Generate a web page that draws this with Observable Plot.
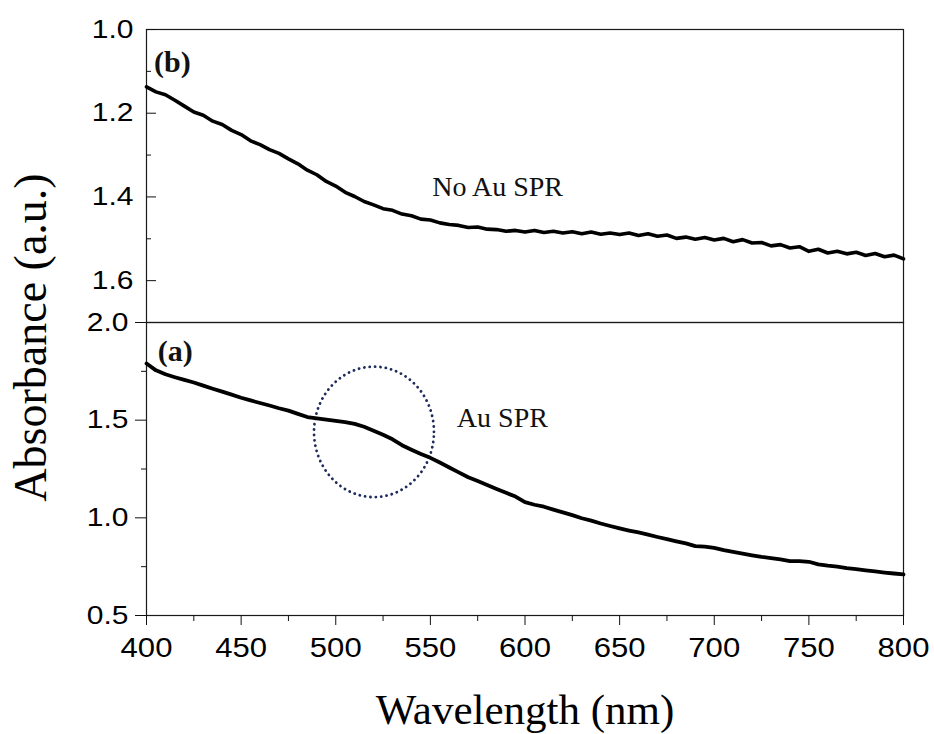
<!DOCTYPE html>
<html>
<head>
<meta charset="utf-8">
<script src="https://cdn.jsdelivr.net/npm/d3@7"></script>
<script src="https://cdn.jsdelivr.net/npm/@observablehq/plot@0.6"></script>
<style>
  html, body { margin: 0; padding: 0; background: #fff; }
  #wrap { position: relative; width: 934px; height: 734px; overflow: hidden; background: #fff; }
  #wrap svg { position: absolute; left: 0; top: 0; }
  #foot { position: absolute; left: 0; top: 729px; width: 934px; height: 5px; background: #f3f8fd; border-top: 1px solid #d8e6f4; }
</style>
</head>
<body>
<div id="wrap"><div id="foot"></div></div>
<script>
// ---------- data ----------
const wavelengths = [
  400,405,410,415,420,425,430,435,440,445,
  450,455,460,465,470,475,480,485,490,495,
  500,505,510,515,520,525,530,535,540,545,
  550,555,560,565,570,575,580,585,590,595,
  600,605,610,615,620,625,630,635,640,645,
  650,655,660,665,670,675,680,685,690,695,
  700,705,710,715,720,725,730,735,740,745,
  750,755,760,765,770,775,780,785,790,795,
  800
];
// panel (b): No Au SPR
const absorbanceB = [
  1.137,1.149,1.156,1.169,1.183,1.197,1.205,1.219,1.227,1.241,
  1.251,1.266,1.275,1.287,1.296,1.309,1.321,1.336,1.347,1.363,
  1.374,1.389,1.399,1.411,1.419,1.428,1.432,1.441,1.445,1.453,
  1.455,1.462,1.466,1.468,1.473,1.472,1.477,1.478,1.482,1.480,
  1.484,1.480,1.485,1.482,1.486,1.483,1.488,1.484,1.489,1.486,
  1.490,1.486,1.492,1.488,1.494,1.491,1.499,1.496,1.501,1.497,
  1.503,1.499,1.507,1.502,1.510,1.509,1.517,1.514,1.522,1.519,
  1.530,1.525,1.534,1.530,1.536,1.532,1.540,1.535,1.543,1.539,
  1.548
];
// panel (a): Au SPR
const absorbanceA = [
  1.790,1.755,1.735,1.720,1.706,1.693,1.677,1.661,1.646,1.631,
  1.615,1.601,1.588,1.575,1.561,1.549,1.532,1.516,1.509,1.503,
  1.496,1.490,1.481,1.466,1.446,1.425,1.402,1.372,1.349,1.327,
  1.307,1.283,1.258,1.233,1.208,1.188,1.168,1.148,1.128,1.109,
  1.080,1.067,1.057,1.042,1.028,1.014,0.998,0.986,0.971,0.958,
  0.946,0.935,0.925,0.914,0.902,0.891,0.880,0.869,0.855,0.853,
  0.846,0.835,0.826,0.817,0.808,0.800,0.794,0.787,0.778,0.778,
  0.775,0.762,0.755,0.750,0.742,0.737,0.731,0.726,0.720,0.715,
  0.710
];

const xTicks = [400,450,500,550,600,650,700,750,800];
const xMinorTicks = [425,475,525,575,625,675,725,775];
const yTicksB = [1.0,1.2,1.4,1.6];
const yMinorTicksB = [1.1,1.3,1.5];
const yTicksA = [0.5,1.0,1.5,2.0];
const yMinorTicksA = [0.75,1.25,1.75];

const panelLabelB = ["(b)"], panelLabelBX = [404], panelLabelBY = [1.102];
const panelLabelA = ["(a)"], panelLabelAX = [406], panelLabelAY = [1.804];
const noteB = ["No Au SPR"], noteBX = [551], noteBY = [1.397];
const noteA = ["Au SPR"], noteAX = [564], noteAY = [1.467];
const sprCenter = [520.2, 1.44];     // wavelength, absorbance
const sprRadius = [31.7, 0.334];     // nm, absorbance
const xTitle = "Wavelength (nm)";
const yTitle = "Absorbance (a.u.)";

// ---------- build ----------
const W = 934, H = 734;
const mLeft = 146, mRight = 31, mTop = 29, split = 322, mBottom = 119;
const serif = "'Liberation Serif','Times New Roman',Times,serif";
const sans = "'Liberation Sans',Arial,Helvetica,sans-serif";

const dataB = wavelengths.map((w, i) => ({w, a: absorbanceB[i]}));
const dataA = wavelengths.map((w, i) => ({w, a: absorbanceA[i]}));
const ellipse = d3.range(0, 361, 3).map(deg => {
  const t = deg * Math.PI / 180;
  return {w: sprCenter[0] + sprRadius[0] * Math.cos(t), a: sprCenter[1] + sprRadius[1] * Math.sin(t)};
});
const tbl = (t, x, y) => t.map((s, i) => ({t: s, x: x[i], y: y[i]}));

const plotA = Plot.plot({
  width: W, height: H,
  marginLeft: mLeft, marginRight: mRight, marginTop: split, marginBottom: mBottom,
  x: {domain: [400, 800]},
  y: {domain: [0.5, 2.0]},
  style: {background: "#fff", fontFamily: sans, color: "#111", overflow: "visible"},
  marks: [
    Plot.frame({stroke: "#1a1a1a", strokeWidth: 1.2}),
    Plot.axisX(xMinorTicks, {tickSize: 6, fill: "none", tickFormat: () => "", label: null}),
    Plot.axisX(xTicks, {tickSize: 10, tickPadding: 12, fontSize: 28, label: null, fill: "#000", tickFormat: d => String(d)}),
    Plot.axisY(yMinorTicksA, {tickSize: 5, fill: "none", tickFormat: () => "", label: null}),
    Plot.axisY(yTicksA, {tickSize: 11, tickPadding: 7, fontSize: 25, label: null, fill: "#000", tickFormat: d => d.toFixed(1)}),
    Plot.line(ellipse, {x: "w", y: "a", stroke: "#1c2b5a", strokeWidth: 2.8, strokeDasharray: "0.1 5.3", strokeLinecap: "round"}),
    Plot.line(dataA, {x: "w", y: "a", stroke: "#000", strokeWidth: 3.8, strokeLinejoin: "round"}),
    Plot.text(tbl(panelLabelA, panelLabelAX, panelLabelAY), {x: "x", y: "y", text: "t", textAnchor: "start", lineAnchor: "bottom", fontFamily: serif, fontWeight: "bold", fontSize: 30, fill: "#111"}),
    Plot.text(tbl(noteA, noteAX, noteAY), {x: "x", y: "y", text: "t", textAnchor: "start", lineAnchor: "bottom", fontFamily: serif, fontSize: 28, fill: "#111"}),
    Plot.text([xTitle], {text: d => d, frameAnchor: "bottom", dy: 108, lineAnchor: "bottom", fontFamily: serif, fontSize: 43, fill: "#000"}),
    Plot.text([yTitle], {text: d => d, frameAnchor: "top-left", dx: -101, dy: 15, rotate: -90, textAnchor: "middle", lineAnchor: "bottom", fontFamily: serif, fontSize: 46, fill: "#000"})
  ]
});

const plotB = Plot.plot({
  width: W, height: H,
  marginLeft: mLeft, marginRight: mRight, marginTop: mTop, marginBottom: H - split,
  x: {domain: [400, 800], axis: null},
  y: {domain: [1.0, 1.7], reverse: true},
  style: {background: "transparent", fontFamily: sans, color: "#111", overflow: "visible"},
  marks: [
    Plot.frame({stroke: "#1a1a1a", strokeWidth: 1.2}),
    Plot.axisY(yMinorTicksB, {tickSize: 5, insetLeft: 5, fill: "none", tickFormat: () => "", label: null}),
    Plot.axisY(yTicksB, {tickSize: 10, insetLeft: 10, tickPadding: 13, fontSize: 25, label: null, fill: "#000", tickFormat: d => d.toFixed(1)}),
    Plot.line(dataB, {x: "w", y: "a", stroke: "#000", strokeWidth: 3.6, strokeLinejoin: "round"}),
    Plot.text(tbl(panelLabelB, panelLabelBX, panelLabelBY), {x: "x", y: "y", text: "t", textAnchor: "start", lineAnchor: "bottom", fontFamily: serif, fontWeight: "bold", fontSize: 30, fill: "#111"}),
    Plot.text(tbl(noteB, noteBX, noteBY), {x: "x", y: "y", text: "t", textAnchor: "start", lineAnchor: "bottom", fontFamily: serif, fontSize: 28, fill: "#111"})
  ]
});

// tick labels in the reference are slightly wider than the font: stretch horizontally
function stretch(svg, sel, s) {
  svg.querySelectorAll(sel).forEach(t => {
    const tr = t.getAttribute("transform");
    if (tr) t.setAttribute("transform", tr + ` scale(${s},1)`);
  });
}
stretch(plotA, 'g[aria-label="y-axis tick label"] text', 1.2);
stretch(plotB, 'g[aria-label="y-axis tick label"] text', 1.2);
stretch(plotA, 'g[aria-label="x-axis tick label"] text', 1.11);

const wrap = document.getElementById("wrap");
wrap.appendChild(plotA);
wrap.appendChild(plotB);
</script>
</body>
</html>
